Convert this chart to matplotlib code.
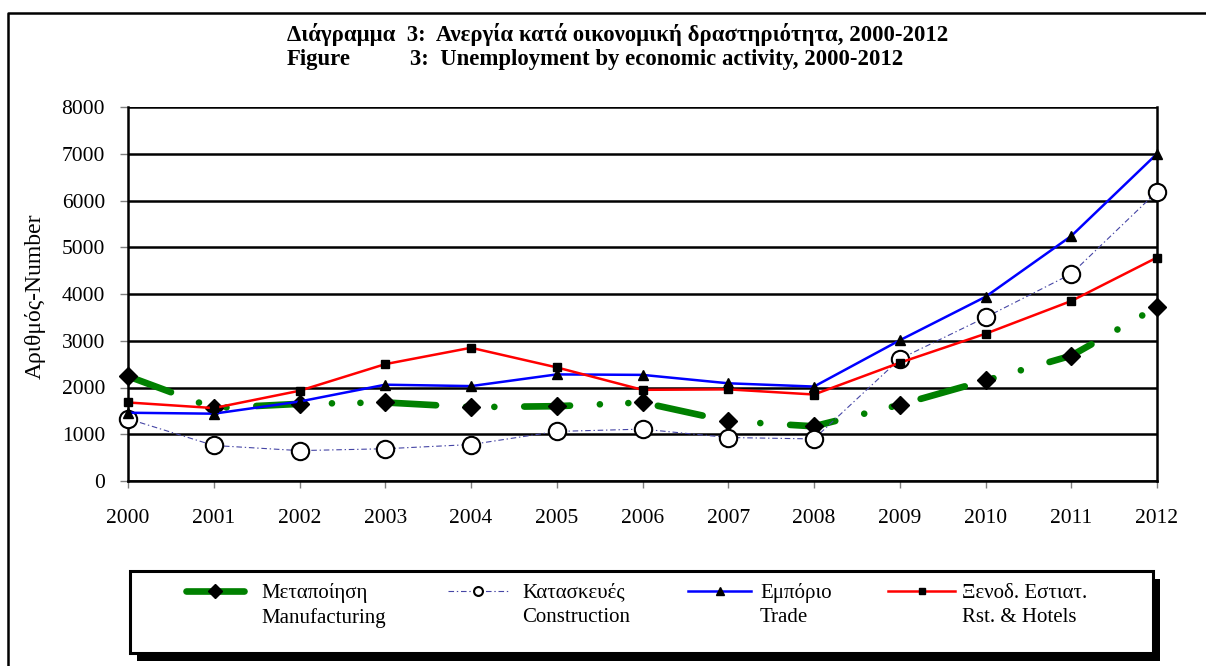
import numpy as np
import matplotlib as mpl
import matplotlib.pyplot as plt
from matplotlib.lines import Line2D
from matplotlib.patches import Rectangle

mpl.rcParams['font.family'] = ['Liberation Serif', 'DejaVu Serif']
mpl.rcParams['lines.scale_dashes'] = False

years = [2000, 2001, 2002, 2003, 2004, 2005, 2006, 2007, 2008, 2009, 2010, 2011, 2012]
manufacturing = [2240, 1560, 1650, 1680, 1580, 1600, 1680, 1280, 1170, 1630, 2150, 2680, 3720]
construction = [1330, 760, 650, 690, 780, 1060, 1110, 930, 900, 2610, 3500, 4430, 6190]
trade = [1460, 1440, 1700, 2060, 2030, 2280, 2270, 2090, 2020, 3010, 3940, 5240, 7000]
hotels = [1680, 1560, 1930, 2500, 2850, 2430, 1950, 1960, 1850, 2530, 3150, 3850, 4780]

labels_gr = ['Μεταποίηση', 'Κατασκευές', 'Εμπόριο', 'Ξενοδ. Εστιατ.']
labels_en = ['Manufacturing', 'Construction', 'Trade', 'Rst. & Hotels']
yticks = [0, 1000, 2000, 3000, 4000, 5000, 6000, 7000, 8000]

W, H = 1206, 666
fig = plt.figure(figsize=(W / 100, H / 100), dpi=100)

def fx(x):
    return x / W

def fy(y):
    return 1 - y / H

ax = fig.add_axes([fx(128), fy(481), fx(1157) - fx(128), fy(107) - fy(481)])

green_style = dict(color='#008000', lw=4.8, ls=(0, (33, 21.5, 0.01, 20.5, 0.01, 21.5)),
                   dash_capstyle='round', marker='D', ms=9.5, mfc='black', mec='black')
cons_style = dict(color='#4545a5', lw=0.8, ls=(0, (4, 2, 1, 2)),
                  marker='o', ms=12.5, mfc='white', mec='black', mew=1.5)
trade_style = dict(color='#0000ff', lw=1.8, marker='^', ms=7, mfc='black', mec='black')
hotel_style = dict(color='#ff0000', lw=1.8, marker='s', ms=6, mfc='black', mec='black')
styles = [green_style, cons_style, trade_style, hotel_style]

for vals, st in zip([manufacturing, construction, trade, hotels], styles):
    ax.plot(years, vals, clip_on=False, zorder=3, **st)

ax.set_xlim(2000, 2012)
ax.set_ylim(0, 8000)
ax.set_xticks(years)
ax.set_yticks(yticks)
ax.tick_params(axis='x', length=5, width=1, color='#808080', pad=15, labelsize=15.5)
ax.tick_params(axis='y', length=5.5, width=1, color='#808080', pad=11, labelsize=15.5)
for yv in yticks:
    ax.axhline(yv, color='black', lw=1.8, zorder=1)
for side in ['left', 'right', 'bottom']:
    ax.spines[side].set_linewidth(1.8)
ax.spines['top'].set_visible(False)

fig.text(fx(35), fy(296), 'Αριθμός-Number', rotation=90, fontsize=17,
         ha='center', va='center')

fig.text(fx(287), fy(35), 'Διάγραμμα  3:  Ανεργία κατά οικονομική δραστηριότητα, 2000-2012',
         fontsize=16.4, fontweight='bold', ha='left', va='center')
fig.text(fx(287), fy(60), 'Figure', fontsize=16.4, fontweight='bold', ha='left', va='center')
fig.text(fx(410), fy(60), '3:  Unemployment by economic activity, 2000-2012',
         fontsize=16.4, fontweight='bold', ha='left', va='center')

# outer frame (cropped on the right and bottom)
fig.add_artist(Line2D([fx(8), fx(8), fx(W)], [fy(H), fy(13), fy(13)],
                      transform=fig.transFigure, color='black', lw=1.8))

# legend box with shadow
fig.add_artist(Rectangle((fx(137), fy(661)), fx(1153) - fx(130), fy(571) - fy(653),
                         transform=fig.transFigure, facecolor='black', edgecolor='none'))
fig.add_artist(Rectangle((fx(130), fy(653)), fx(1153) - fx(130), fy(571) - fy(653),
                         transform=fig.transFigure, facecolor='white', edgecolor='black', lw=2.2))

hx0 = [186, 448, 688, 888]
hx1 = [244, 508, 751, 955]
tx = [261, 522, 760, 962]
for i, st in enumerate(styles):
    st2 = dict(st)
    st2.pop('marker')
    if i == 0:
        st2['ls'] = '-'
        st2['solid_capstyle'] = 'round'
    fig.add_artist(Line2D([fx(hx0[i]), fx(hx1[i])], [fy(591), fy(591)],
                          transform=fig.transFigure, **st2))
    ms = 8 if i == 1 else st['ms']
    fig.add_artist(Line2D([fx((hx0[i] + hx1[i]) / 2)], [fy(591)],
                          transform=fig.transFigure, marker=st['marker'],
                          ms=ms * 0.8, mfc=st['mfc'], mec=st['mec'],
                          mew=st.get('mew', 1), ls='none'))
    fig.text(fx(tx[i]), fy(593), labels_gr[i], fontsize=15, ha='left', va='center')
    fig.text(fx(tx[i]), fy(618), labels_en[i], fontsize=15, ha='left', va='center')

fig.savefig('out.png', dpi=100)
